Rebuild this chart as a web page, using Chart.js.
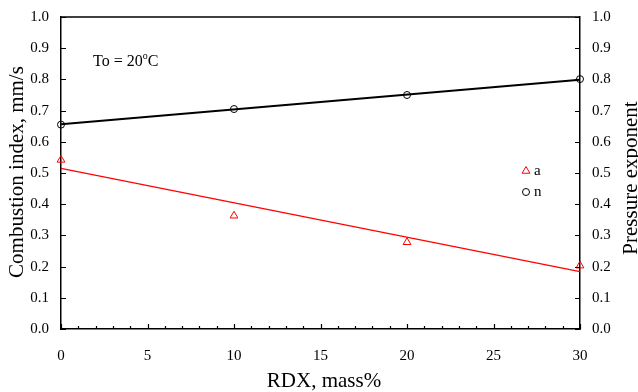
<!DOCTYPE html>
<html><head><meta charset="utf-8">
<script src="https://cdn.jsdelivr.net/npm/chart.js@4/dist/chart.umd.min.js"></script>
<style>html,body{margin:0;padding:0;background:#fff}canvas{display:block}</style>
</head><body>
<canvas id="c" width="638" height="392"></canvas>
<script>
// ---- data ----
const rdx = [0, 10, 20, 30];
const aValues = [0.542, 0.363, 0.278, 0.203];
const nValues = [0.655, 0.705, 0.750, 0.801];
const fitX = [0, 30];
const aFit = [0.515, 0.184];
const nFit = [0.656, 0.799];
const yTickValues = [0, 0.1, 0.2, 0.3, 0.4, 0.5, 0.6, 0.7, 0.8, 0.9, 1.0];
const xTickValues = [0, 5, 10, 15, 20, 25, 30];
const xMinorValues = [0,1,2,3,4,5,6,7,8,9,10,11,12,13,14,15,16,17,18,19,20,21,22,23,24,25,26,27,28,29,30];
const seriesNames = ['a', 'n'];
const xTitle = 'RDX, mass%';
const yTitle = 'Combustion index, mm/s';
const y2Title = 'Pressure exponent';

const SERIF = '"Liberation Serif", "Times New Roman", serif';
const toXY = (xs, ys) => xs.map((x, i) => ({x, y: ys[i]}));

const extras = {
  id: 'extras',
  afterDraw(chart) {
    const ctx = chart.ctx;
    const {left, right, top, bottom} = chart.chartArea;
    const xs = chart.scales.x, ys = chart.scales.y, ys2 = chart.scales.y2;
    ctx.save();
    // top border
    ctx.strokeStyle = '#000';
    ctx.lineWidth = 1.5;
    ctx.beginPath(); ctx.moveTo(left, top); ctx.lineTo(right, top); ctx.stroke();
    // inward ticks
    ctx.lineWidth = 1.2;
    ctx.beginPath();
    yTickValues.forEach(v => {
      const py = Math.round(ys.getPixelForValue(v)) + 0.5;
      ctx.moveTo(left, py); ctx.lineTo(left + 5, py);
      const py2 = Math.round(ys2.getPixelForValue(v)) + 0.5;
      ctx.moveTo(right, py2); ctx.lineTo(right - 5, py2);
    });
    xMinorValues.forEach(v => {
      const px = Math.round(xs.getPixelForValue(v)) + 0.5;
      const len = xTickValues.includes(v) ? 5 : 3;
      ctx.moveTo(px, bottom); ctx.lineTo(px, bottom - len);
    });
    ctx.stroke();

    // axis titles
    ctx.fillStyle = '#000';
    ctx.font = '21px ' + SERIF;
    ctx.textAlign = 'center';
    ctx.textBaseline = 'alphabetic';
    ctx.fillText(xTitle, 324, 387);
    ctx.save();
    ctx.translate(23, 172); ctx.rotate(-Math.PI / 2);
    ctx.fillText(yTitle, 0, 0);
    ctx.restore();
    ctx.save();
    ctx.translate(637, 178); ctx.rotate(-Math.PI / 2);
    ctx.fillText(y2Title, 0, 0);
    ctx.restore();

    // annotation To = 20°C
    ctx.textAlign = 'left';
    ctx.font = '16px ' + SERIF;
    let tx = 93;
    const t1 = 'To = 20';
    ctx.fillText(t1, tx, 66);
    tx += ctx.measureText(t1).width;
    ctx.font = '10px ' + SERIF;
    ctx.fillText('o', tx, 59);
    tx += ctx.measureText('o').width;
    ctx.font = '16px ' + SERIF;
    ctx.fillText('C', tx, 66);

    // legend
    const lx = 526;
    const rows = [171, 192];
    ctx.strokeStyle = '#ff0000'; ctx.lineWidth = 1;
    const r = 4.5, cy = rows[0];
    ctx.beginPath();
    ctx.moveTo(lx, cy - r);
    ctx.lineTo(lx + r * 0.866, cy + r * 0.5);
    ctx.lineTo(lx - r * 0.866, cy + r * 0.5);
    ctx.closePath(); ctx.stroke();
    ctx.strokeStyle = '#000';
    ctx.beginPath(); ctx.arc(lx, rows[1], 3.5, 0, Math.PI * 2); ctx.stroke();
    ctx.font = '15px ' + SERIF;
    ctx.textBaseline = 'middle';
    ctx.fillText(seriesNames[0], 534, rows[0]);
    ctx.fillText(seriesNames[1], 534, rows[1]);
    ctx.restore();
  }
};

const fixV = w => s => { s.width = w; s.paddingTop = 0; s.paddingBottom = 0; };

new Chart(document.getElementById('c'), {
  type: 'scatter',
  data: {
    datasets: [
      { label: seriesNames[0], data: toXY(rdx, aValues), pointStyle: 'triangle', pointRadius: 4.5,
        borderColor: '#ff0000', backgroundColor: 'rgba(0,0,0,0)', borderWidth: 1, showLine: false, clip: false },
      { label: seriesNames[1], data: toXY(rdx, nValues), pointStyle: 'circle', pointRadius: 3.5,
        borderColor: '#000', backgroundColor: 'rgba(0,0,0,0)', borderWidth: 1, showLine: false, clip: false },
      { label: 'a fit', data: toXY(fitX, aFit), showLine: true, pointRadius: 0, borderColor: '#ff0000', borderWidth: 1.2, clip: false },
      { label: 'n fit', data: toXY(fitX, nFit), showLine: true, pointRadius: 0, borderColor: '#000', borderWidth: 2, clip: false }
    ]
  },
  options: {
    responsive: false,
    animation: false,
    devicePixelRatio: 1,
    layout: { padding: { top: 17, left: 0, right: 0, bottom: 0 } },
    plugins: { legend: { display: false }, tooltip: { enabled: false } },
    scales: {
      x: {
        type: 'linear', min: 0, max: 30,
        afterFit: s => { s.height = 63; s.paddingLeft = 0; s.paddingRight = 0; },
        afterBuildTicks: s => { s.ticks = xTickValues.map(v => ({value: v})); },
        grid: { display: false, drawTicks: false },
        border: { display: true, color: '#000', width: 1.5 },
        ticks: { padding: 18, color: '#000', font: { family: SERIF, size: 15 }, maxRotation: 0 }
      },
      y: {
        position: 'left', min: 0, max: 1,
        afterFit: fixV(61),
        afterBuildTicks: s => { s.ticks = yTickValues.map(v => ({value: v})); },
        grid: { display: false, drawTicks: false },
        border: { display: true, color: '#000', width: 1.5 },
        ticks: { padding: 12, color: '#000', font: { family: SERIF, size: 15 }, callback: v => Number(v).toFixed(1) }
      },
      y2: {
        position: 'right', min: 0, max: 1,
        afterFit: fixV(58),
        afterBuildTicks: s => { s.ticks = yTickValues.map(v => ({value: v})); },
        grid: { display: false, drawTicks: false },
        border: { display: true, color: '#000', width: 1.5 },
        ticks: { padding: 12, color: '#000', font: { family: SERIF, size: 15 }, callback: v => Number(v).toFixed(1) }
      }
    }
  },
  plugins: [extras]
});
</script>
</body></html>
